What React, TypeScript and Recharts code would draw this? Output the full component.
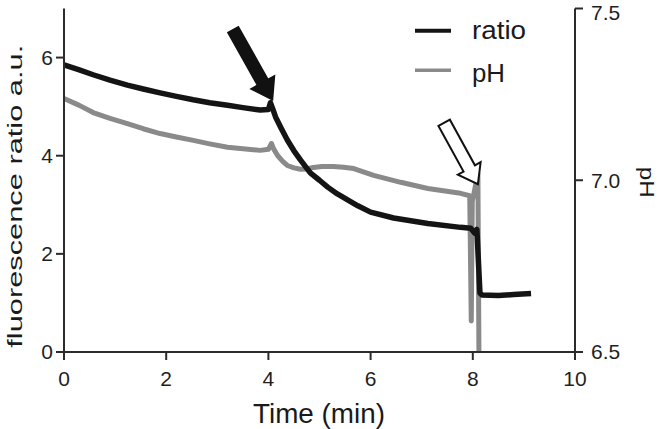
import React from "react";
import {
  LineChart,
  Line,
  XAxis,
  YAxis,
  ReferenceLine,
} from "recharts";

const FONT = '"Liberation Sans", Arial, Helvetica, sans-serif';
const AXIS = "#2b2b2b";
const RATIO_COLOR = "#141414";
const PH_COLOR = "#8a8a8a";

// ratio trace (left axis)
const ratioTime = [
  0, 0.3, 0.57, 0.9, 1.24, 1.55, 1.88, 2.2, 2.53, 2.85, 3.2, 3.5, 3.84, 4.0,
  4.04, 4.08, 4.14, 4.25, 4.37, 4.5, 4.63, 4.82, 5.0, 5.16, 5.35, 5.55, 5.75,
  6.0, 6.45, 7.12, 7.76, 7.96, 8.04, 8.08, 8.14, 8.18, 8.5, 8.8, 9.14,
];
const ratioValues = [
  5.85, 5.75, 5.65, 5.54, 5.44, 5.36, 5.28, 5.21, 5.14, 5.08, 5.03, 4.98, 4.93,
  4.94, 5.08, 4.97, 4.79, 4.56, 4.32, 4.1, 3.91, 3.65, 3.5, 3.36, 3.22, 3.1,
  2.98, 2.85, 2.73, 2.62, 2.54, 2.52, 2.42, 2.5, 1.2, 1.16, 1.15, 1.17, 1.19,
];

// pH trace (right axis)
const phTime = [
  0, 0.3, 0.57, 0.9, 1.24, 1.55, 1.88, 2.2, 2.53, 2.85, 3.2, 3.5, 3.84, 4.0,
  4.06, 4.1, 4.18, 4.28, 4.37, 4.5, 4.63, 4.75, 4.88, 5.05, 5.27, 5.47, 5.67,
  6.06, 6.59, 7.12, 7.76, 7.94, 7.97, 7.99, 8.02, 8.06, 8.1, 8.12, 8.13,
];
const phValues = [
  7.238, 7.218, 7.197, 7.18, 7.165, 7.15, 7.136, 7.126, 7.116, 7.106, 7.096,
  7.092, 7.087, 7.09, 7.107, 7.092, 7.072, 7.055, 7.043, 7.036, 7.032, 7.033,
  7.037, 7.04, 7.04, 7.038, 7.034, 7.014, 6.994, 6.976, 6.962, 6.955, 6.59,
  6.94, 6.96, 6.99, 7.02, 6.5, 6.5,
];

const xTicks = [0, 2, 4, 6, 8, 10];
const leftTicks = [0, 2, 4, 6];
const rightTicks = [6.5, 7.0, 7.5];

// arrows: [tail, tip] in (time, ratio) units
const solidArrow = [
  { x: 3.31, y: 6.57 },
  { x: 4.08, y: 5.14 },
];
const openArrow = [
  { x: 7.44, y: 4.67 },
  { x: 8.1, y: 3.42 },
];

const ratioData = ratioTime.map((t, i) => ({ t, ratio: ratioValues[i] }));
const phData = phTime.map((t, i) => ({ t, ph: phValues[i] }));

function arrowShape(fill: string, shaft: number, head: number, headLen: number, sw: number) {
  return (props: any) => {
    const { x1, y1, x2, y2 } = props;
    const dx = x2 - x1;
    const dy = y2 - y1;
    const len = Math.hypot(dx, dy) || 1;
    const ux = dx / len;
    const uy = dy / len;
    const nx = -uy;
    const ny = ux;
    const bx = x2 - ux * headLen;
    const by = y2 - uy * headLen;
    const pts = [
      [x1 + (nx * shaft) / 2, y1 + (ny * shaft) / 2],
      [bx + (nx * shaft) / 2, by + (ny * shaft) / 2],
      [bx + (nx * head) / 2, by + (ny * head) / 2],
      [x2, y2],
      [bx - (nx * head) / 2, by - (ny * head) / 2],
      [bx - (nx * shaft) / 2, by - (ny * shaft) / 2],
      [x1 - (nx * shaft) / 2, y1 - (ny * shaft) / 2],
    ];
    return (
      <polygon
        points={pts.map((p) => p.join(",")).join(" ")}
        fill={fill}
        stroke="#111"
        strokeWidth={sw}
        strokeLinejoin="miter"
      />
    );
  };
}

const LeftLabel = (props: any) => {
  const vb = props.viewBox || { x: 0, y: 8.5, width: 64, height: 343.5 };
  const cx = vb.x + 14.5;
  const cy = vb.y + vb.height / 2 + 16;
  return (
    <text
      x={cx}
      y={cy}
      transform={`rotate(-90, ${cx}, ${cy})`}
      textAnchor="middle"
      dominantBaseline="central"
      fontFamily={FONT}
      fontSize={21}
      fill="#1a1a1a"
      textLength={303}
      lengthAdjust="spacingAndGlyphs"
    >
      fluorescence ratio a.u.
    </text>
  );
};

const RightLabel = (props: any) => {
  const vb = props.viewBox || { x: 575, y: 8.5, width: 91, height: 343.5 };
  const cx = vb.x + 72;
  const cy = vb.y + vb.height / 2 + 2;
  return (
    <text
      x={cx}
      y={cy}
      transform={`rotate(90, ${cx}, ${cy})`}
      textAnchor="middle"
      dominantBaseline="central"
      fontFamily={FONT}
      fontSize={21}
      fill="#1a1a1a"
      textLength={31}
      lengthAdjust="spacingAndGlyphs"
    >
      pH
    </text>
  );
};

const BottomLabel = (props: any) => {
  const vb = props.viewBox || { x: 64, y: 352, width: 511, height: 77 };
  const cx = vb.x + 255;
  const y = vb.y + 71;
  return (
    <text
      x={cx}
      y={y}
      textAnchor="middle"
      fontFamily={FONT}
      fontSize={28}
      fill="#1a1a1a"
      textLength={132}
      lengthAdjust="spacingAndGlyphs"
    >
      Time (min)
    </text>
  );
};

const legendItems = [
  { name: "ratio", color: RATIO_COLOR, width: 4, textLen: 54 },
  { name: "pH", color: PH_COLOR, width: 3.5, textLen: 33 },
];

const tickStyle = { fontFamily: FONT, fontSize: 21, fill: "#1f1f1f" };

export default function App() {
  return (
    <div
      style={{
        position: "absolute",
        left: 0,
        top: 0,
        width: 666,
        height: 429,
        background: "#fff",
      }}
    >
      <LineChart
        width={666}
        height={429}
        margin={{ top: 8.5, right: 0, bottom: 0, left: 0 }}
      >
        <XAxis
          dataKey="t"
          type="number"
          domain={[0, 10]}
          ticks={xTicks}
          allowDuplicatedCategory={false}
          height={77}
          stroke={AXIS}
          strokeWidth={2}
          tickSize={8}
          tickMargin={11}
          tick={tickStyle}
          tickLine={{ stroke: AXIS, strokeWidth: 2 }}
          label={<BottomLabel />}
        />
        <YAxis
          yAxisId="left"
          domain={[0, 7]}
          ticks={leftTicks}
          width={64}
          stroke={AXIS}
          strokeWidth={2}
          tickSize={8}
          tickMargin={3}
          tick={tickStyle}
          tickLine={{ stroke: AXIS, strokeWidth: 2 }}
          label={<LeftLabel />}
        />
        <YAxis
          yAxisId="right"
          orientation="right"
          domain={[6.5, 7.5]}
          ticks={rightTicks}
          width={91}
          stroke={AXIS}
          strokeWidth={2}
          tickSize={8}
          tickMargin={8}
          tick={tickStyle}
          tickLine={{ stroke: AXIS, strokeWidth: 2 }}
          tickFormatter={(v: number) => v.toFixed(1)}
          allowDataOverflow
          label={<RightLabel />}
        />
        <Line
          yAxisId="right"
          data={phData}
          dataKey="ph"
          type="linear"
          stroke={PH_COLOR}
          strokeWidth={5}
          strokeLinejoin="round"
          dot={false}
          isAnimationActive={false}
        />
        <Line
          yAxisId="left"
          data={ratioData}
          dataKey="ratio"
          type="linear"
          stroke={RATIO_COLOR}
          strokeWidth={5.5}
          strokeLinejoin="round"
          dot={false}
          isAnimationActive={false}
        />
        <ReferenceLine
          yAxisId="left"
          segment={solidArrow}
          shape={arrowShape("#111", 12, 27, 20, 1.5)}
        />
        <ReferenceLine
          yAxisId="left"
          segment={openArrow}
          shape={arrowShape("#fff", 13, 26, 18, 2)}
        />
      </LineChart>
      <svg
        width={666}
        height={429}
        style={{ position: "absolute", left: 0, top: 0, pointerEvents: "none" }}
      >
        {legendItems.map((item, i) => (
          <g key={item.name}>
            <line
              x1={415}
              x2={451}
              y1={30.7 + i * 39.5}
              y2={30.7 + i * 39.5}
              stroke={item.color}
              strokeWidth={item.width}
            />
            <text
              x={472}
              y={38.5 + i * 43.5}
              fontFamily={FONT}
              fontSize={25}
              fill="#1a1a1a"
              textLength={item.textLen}
              lengthAdjust="spacingAndGlyphs"
            >
              {item.name}
            </text>
          </g>
        ))}
      </svg>
    </div>
  );
}
